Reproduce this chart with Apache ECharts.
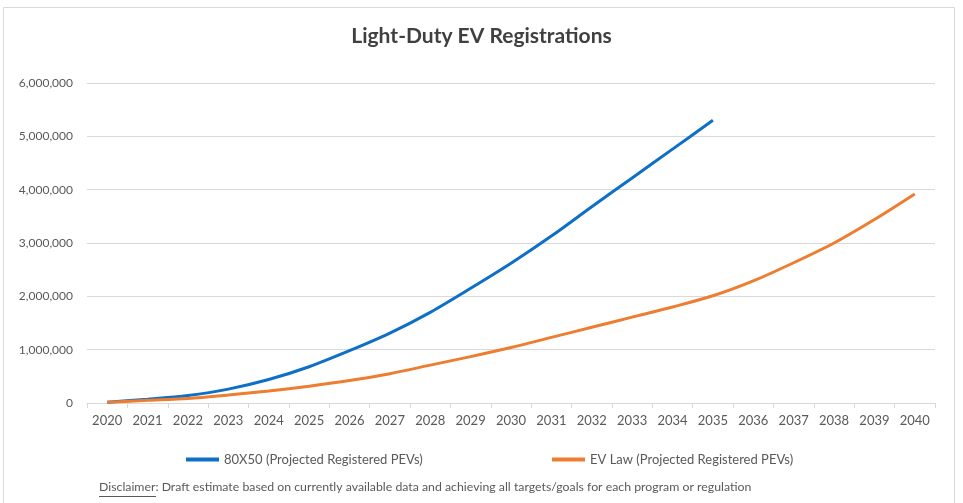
<!DOCTYPE html>
<html>
<head>
<meta charset="utf-8">
<script src="https://cdn.jsdelivr.net/npm/echarts@6/dist/echarts.min.js"></script>
<style>
  html, body { margin: 0; padding: 0; background: #fff; }
  #chart { width: 963px; height: 503px; }
</style>
</head>
<body>
<div id="chart"></div>
<script>
var years = ['2020', '2021', '2022', '2023', '2024', '2025', '2026', '2027', '2028', '2029', '2030',
	'2031', '2032', '2033', '2034', '2035', '2036', '2037', '2038', '2039', '2040'];
var plan80x50 = [15000, 70000, 140000, 260000, 440000, 680000, 980000, 1310000, 1700000, 2150000, 2620000,
	3130000, 3680000, 4220000, 4760000, 5300000];
var evLaw = [15000, 50000, 85000, 150000, 225000, 315000, 420000, 550000, 710000, 870000, 1040000,
	1230000, 1420000, 1610000, 1800000, 2010000, 2290000, 2630000, 3000000, 3440000, 3920000];
var seriesNames = ['80X50 (Projected Registered PEVs)', 'EV Law (Projected Registered PEVs)'];
var disclaimerLabel = 'Disclaimer';
var disclaimerText = ': Draft estimate based on currently available data and achieving all targets/goals for each program or regulation';

var font = 'Lato';
var chart = echarts.init(document.getElementById('chart'));
var option = {
	backgroundColor: '#fff',
	animation: false,
	title: {
		text: 'Light-Duty EV Registrations',
		left: 'center',
		top: 21,
		textStyle: {
			fontFamily: font,
			fontSize: 21,
			fontWeight: 'bold',
			color: '#404040'
		}
	},
	grid: {
		left: 87,
		right: 28,
		top: 83,
		bottom: 100
	},
	legend: [{
		data: [seriesNames[0]],
		left: 181,
		top: 448,
		itemWidth: 33,
		itemHeight: 4,
		itemGap: 4,
		icon: 'rect',
		textStyle: { fontFamily: font, fontSize: 13, color: '#595959' }
	}, {
		data: [seriesNames[1]],
		left: 547,
		top: 448,
		itemWidth: 33,
		itemHeight: 4,
		icon: 'rect',
		textStyle: { fontFamily: font, fontSize: 13, color: '#595959' }
	}],
	xAxis: {
		type: 'category',
		data: years,
		boundaryGap: true,
		axisLine: { lineStyle: { color: '#d9d9d9', width: 1 } },
		axisTick: { show: true, length: 5, lineStyle: { color: '#d9d9d9' } },
		axisLabel: {
			margin: 11,
			fontFamily: font,
			fontSize: 13,
			color: '#595959'
		}
	},
	yAxis: {
		type: 'value',
		min: 0,
		max: 6000000,
		interval: 1000000,
		axisLine: { show: false },
		axisTick: { show: false },
		splitLine: { lineStyle: { color: '#d9d9d9', width: 1 } },
		axisLabel: {
			margin: 14,
			fontFamily: font,
			fontSize: 12,
			color: '#595959',
			formatter: function(v) {
				return v.toLocaleString('en-US');
			}
		}
	},
	graphic: [{
		type: 'rect',
		shape: { x: 3.5, y: 7.5, width: 951, height: 510 },
		style: { fill: 'none', stroke: '#d9d9d9', lineWidth: 1 },
		silent: true
	}, {
		type: 'text',
		left: 99,
		top: 481,
		style: {
			text: disclaimerLabel + disclaimerText,
			fontFamily: font,
			fontSize: 12.3,
			fill: '#595959'
		}
	}, {
		type: 'line',
		shape: { x1: 99, y1: 496.5, x2: 156, y2: 496.5 },
		style: { stroke: '#595959', lineWidth: 1 }
	}],
	series: [{
		name: seriesNames[0],
		type: 'line',
		data: plan80x50,
		smooth: 0.3,
		symbol: 'none',
		lineStyle: { color: '#0F6FC6', width: 3 },
		itemStyle: { color: '#0F6FC6' }
	}, {
		name: seriesNames[1],
		type: 'line',
		data: evLaw,
		smooth: 0.3,
		symbol: 'none',
		lineStyle: { color: '#ED7D31', width: 3 },
		itemStyle: { color: '#ED7D31' }
	}]
};
chart.setOption(option);
</script>
</body>
</html>
